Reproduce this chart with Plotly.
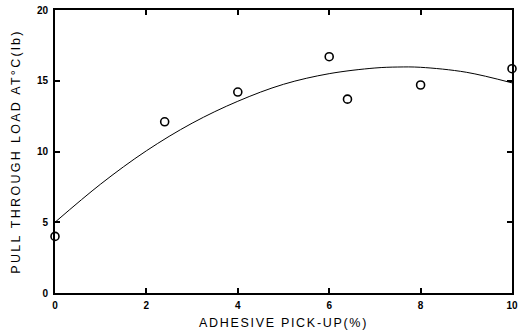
import plotly.graph_objects as go

# Measured points
pickup = [0.0, 2.4, 4.0, 6.0, 6.4, 8.0, 10.0]
load = [4.0, 12.1, 14.2, 16.7, 13.7, 14.7, 15.85]

# Fitted curve
curve_x = [0, 1, 2, 3, 4, 5, 6, 7, 7.5, 8, 9, 10]
curve_y = [5.0, 7.7, 10.05, 12.0, 13.55, 14.75, 15.5, 15.9, 15.97, 15.95, 15.6, 14.85]

x_ticks = [0, 2, 4, 6, 8, 10]
y_ticks = [0, 5, 10, 15, 20]

x_title = "ADHESIVE PICK-UP(%)"
y_title = "PULL THROUGH LOAD AT°C(lb)"

FONT = "Liberation Sans, Arial"

fig = go.Figure()
fig.add_trace(go.Scatter(x=curve_x, y=curve_y, mode="lines", line=dict(color="black", width=1, shape="spline"),
                         showlegend=False, hoverinfo="skip"))
fig.add_trace(go.Scatter(x=pickup, y=load, mode="markers",
                         marker=dict(symbol="circle-open", size=8, color="black", line=dict(width=1.6)),
                         cliponaxis=False, showlegend=False))

axis_common = dict(showgrid=False, zeroline=False, showline=True, linecolor="black", linewidth=2,
                   mirror="ticks", ticks="inside", ticklen=5, tickwidth=1.5, tickcolor="black",
                   automargin=False, ticklabeloverflow="allow",
                   tickfont=dict(family=FONT, size=10, color="black", weight="bold"))

fig.update_xaxes(range=[0, 10], tickvals=x_ticks, ticktext=[str(v) for v in x_ticks], ticklabelstandoff=2,
                 title=dict(text='<span style="letter-spacing:1.7px">' + x_title + '</span>',
                            font=dict(family=FONT, size=12.5, color="black"), standoff=8), **axis_common)
fig.update_yaxes(range=[0, 20], tickvals=y_ticks, ticktext=[str(v) for v in y_ticks], ticklabelstandoff=3,
                 title=dict(text='<span style="letter-spacing:2.3px">' + y_title + '</span>',
                            font=dict(family=FONT, size=12.5, color="black"), standoff=14), **axis_common)

fig.update_layout(width=523, height=335, margin=dict(l=55, r=11, t=10, b=42),
                  plot_bgcolor="white", paper_bgcolor="white")

fig.write_html("out.html", config={"displayModeBar": False},
               post_script="document.body.style.margin='0';")
